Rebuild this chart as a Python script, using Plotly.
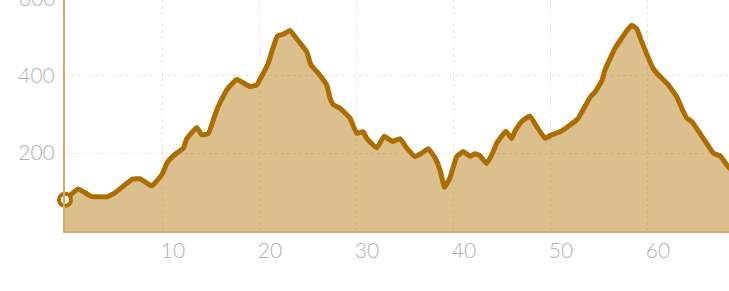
import plotly.graph_objects as go

# Distance (x) and elevation (y)
distance = [0, 1.37, 2.68, 4.30, 5.15, 6.96, 7.73, 8.94, 9.97, 10.52, 11.16, 12.20, 12.55,
            13.58, 14.09, 14.77, 15.29, 15.80, 16.67, 17.70, 19.07, 19.76, 20.28, 20.96,
            21.31, 21.91, 22.51, 23.20, 23.71, 24.92, 25.36, 26.11, 26.98, 27.32, 27.66,
            28.35, 29.38, 30.07, 30.75, 31.10, 32.13, 32.89, 33.76, 34.54, 35.23, 36.08,
            36.77, 37.45, 38.14, 38.66, 39.12, 39.69, 40.38, 41.06, 41.75, 42.27, 42.78,
            43.47, 44.15, 44.51, 45.46, 46.05, 46.39, 47.08, 47.94, 48.63, 49.48, 50.18,
            51.03, 51.89, 52.92, 53.61, 54.12, 54.64, 55.33, 55.67, 56.70, 57.91, 58.42,
            58.94, 59.45, 60.57, 61.16, 62.03, 63.06, 63.58, 64.09, 64.61, 65.80, 66.84,
            67.53, 68.22, 69.0, 70.0]
elevation = [80, 108, 89, 88, 98, 133, 134, 116, 144, 175, 193, 213, 237,
             266, 247, 250, 285, 320, 362, 389, 371, 375, 398, 431,
             460, 501, 505, 515, 499, 460, 426, 405, 375, 341, 324,
             315, 290, 251, 255, 238, 213, 243, 230, 237, 213, 191,
             200, 211, 188, 157, 112, 137, 191, 204, 192, 198, 193,
             173, 204, 226, 256, 237, 257, 281, 295, 268, 238, 247,
             255, 269, 290, 320, 343, 357, 385, 414, 469, 514, 528,
             519, 486, 420, 401, 380, 345, 315, 290, 281, 238, 200,
             193, 170, 150, 140]

x_ticks = [10, 20, 30, 40, 50, 60]
y_ticks = [200, 400]
y_top_label = "600"

X_MAX = 68.45
Y_MAX = 593

LINE = "#ae6d00"
AXIS = "#d6aa6e"
GRID = "rgba(215,175,130,0.35)"
TXT = "#b0b0b0"
FONT = dict(family="Lato", size=21, color=TXT, weight=300)

fig = go.Figure()
fig.add_trace(go.Scatter(
    x=distance, y=elevation, mode="lines",
    line=dict(color=LINE, width=5, shape="spline", smoothing=0.35),
    fill="tozeroy", fillcolor="rgba(176,112,0,0.45)",
    hoverinfo="skip", showlegend=False,
))
fig.add_trace(go.Scatter(
    x=distance[:1], y=elevation[:1], mode="markers",
    marker=dict(size=12, color="white", line=dict(color=LINE, width=4)),
    hoverinfo="skip", showlegend=False, cliponaxis=False,
))

fig.update_layout(
    width=729, height=291,
    margin=dict(l=65, r=0, t=0, b=60),
    paper_bgcolor="white", plot_bgcolor="white",
    xaxis=dict(range=[0, X_MAX], tickvals=x_ticks, ticktext=[str(v) for v in x_ticks],
               showgrid=True, gridcolor=GRID, griddash="dot", gridwidth=1,
               showline=True, linecolor=AXIS, linewidth=2, zeroline=False,
               ticks="", tickfont=FONT, ticklabelshift=11, ticklabelstandoff=0),
    yaxis=dict(range=[0, Y_MAX], tickvals=y_ticks, ticktext=[str(v) for v in y_ticks],
               showgrid=True, gridcolor=GRID, griddash="dot", gridwidth=1,
               showline=True, linecolor=AXIS, linewidth=2, zeroline=False,
               ticks="", tickfont=FONT, ticklabelstandoff=4),
    annotations=[dict(text=y_top_label, xref="paper", yref="paper", x=0,
                      y=float(y_top_label) / Y_MAX, xanchor="right", yanchor="middle",
                      xshift=-7, showarrow=False, font=FONT)],
)

fig.write_html("out.html", config={"displayModeBar": False},
               post_script="document.body.style.margin='0';"
                           "document.body.style.overflow='hidden';")
